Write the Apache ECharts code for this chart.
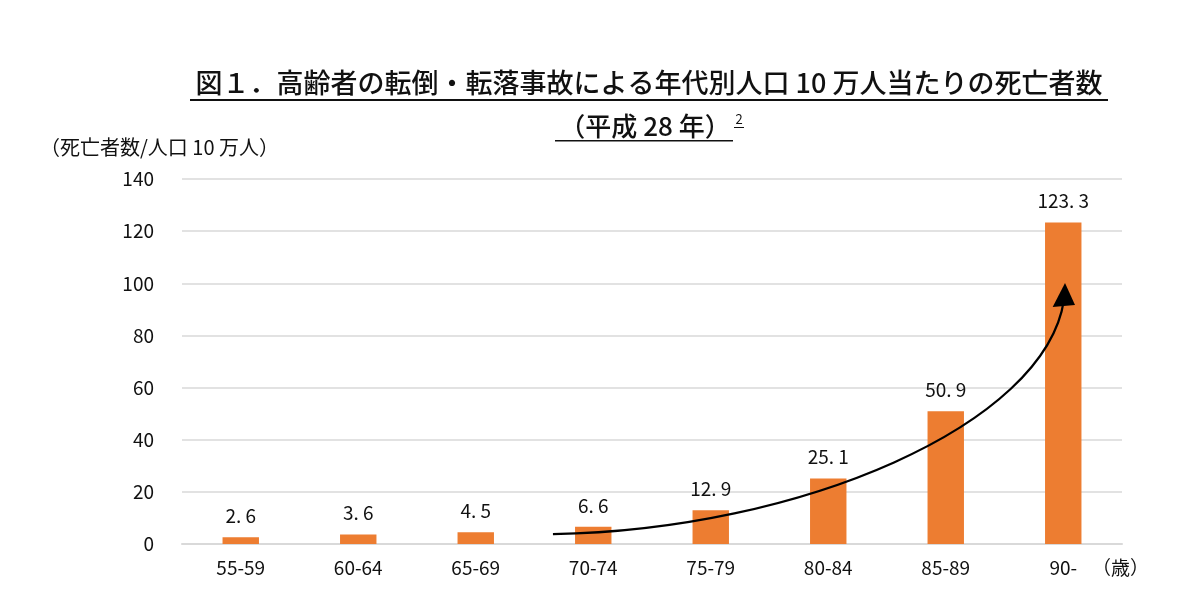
<!DOCTYPE html>
<html>
<head>
<meta charset="utf-8">
<script src="https://cdn.jsdelivr.net/npm/echarts@6/dist/echarts.min.js"></script>
<style>
html,body{margin:0;padding:0;background:#fff;}
#c{width:1200px;height:610px;}
</style>
</head>
<body>
<div id="c"></div>
<script>
// ---- data ----
const categories = ['55-59', '60-64', '65-69', '70-74', '75-79', '80-84', '85-89', '90-'];
const values = [2.6, 3.6, 4.5, 6.6, 12.9, 25.1, 50.9, 123.3];
const yMin = 0, yMax = 140, yInterval = 20;
// arrow annotation (cubic bezier) in data units: [category position, value]
const arrowCurve = [[2.657, 3.8], [4.76, 5.4], [6.845, 45.6], [7.006, 93.6]];
const arrowHead = [[7.015, 100.1], [6.91, 90.9], [7.1, 91.7]];
const titleText = '図１．高齢者の転倒・転落事故による年代別人口 10 万人当たりの死亡者数';
const subTitleText = '（平成 28 年）';
const yAxisName = '（死亡者数/人口 10 万人）';
const xUnit = '（歳）';

const FONT = "'Noto Sans CJK JP', 'Noto Sans', sans-serif";

const chart = echarts.init(document.getElementById('c'), null, {renderer: 'canvas'});
chart.setOption({
  animation: false,
  backgroundColor: '#ffffff',
  grid: {left: 182, right: 78, top: 179, bottom: 66, containLabel: false},
  xAxis: [{
    type: 'category',
    data: categories,
    axisLine: {show: true, lineStyle: {color: '#d9d9d9', width: 2}},
    axisTick: {show: false},
    axisLabel: {color: '#111', fontSize: 19, fontFamily: FONT, margin: 14}
  }, {
    type: 'value', min: -0.5, max: 7.5, show: false
  }],
  yAxis: {
    type: 'value', min: yMin, max: yMax, interval: yInterval,
    axisLine: {show: false}, axisTick: {show: false},
    axisLabel: {color: '#111', fontSize: 19, fontFamily: FONT, margin: 28},
    splitLine: {lineStyle: {color: '#d9d9d9', width: 1.5}}
  },
  series: [{
    type: 'bar',
    data: values,
    barWidth: '31%',
    itemStyle: {color: '#ED7D31'},
    label: {
      show: true, position: 'top', distance: 12,
      color: '#111', fontSize: 19, fontFamily: FONT,
      formatter: p => p.value.toFixed(1).replace('.', '. ')
    }
  }, {
    type: 'custom',
    xAxisIndex: 1,
    data: [0],
    silent: true,
    z: 5,
    renderItem: function (params, api) {
      const c = arrowCurve.map(p => api.coord(p));
      const h = arrowHead.map(p => api.coord(p));
      return {
        type: 'group',
        children: [{
          type: 'bezierCurve',
          shape: {x1: c[0][0], y1: c[0][1], cpx1: c[1][0], cpy1: c[1][1], cpx2: c[2][0], cpy2: c[2][1], x2: c[3][0], y2: c[3][1]},
          style: {stroke: '#000', lineWidth: 2.2, fill: null}
        }, {
          type: 'polygon',
          shape: {points: h},
          style: {fill: '#000'}
        }]
      };
    }
  }],
  graphic: [
    {type: 'text', x: 649, y: 83, style: {text: titleText, font: '500 27px ' + FONT, fill: '#111', align: 'center', verticalAlign: 'middle'}},
    {type: 'rect', shape: {x: 190, y: 99, width: 918, height: 2}, style: {fill: '#111'}},
    {type: 'text', x: 645, y: 126, style: {text: subTitleText, font: '500 26px ' + FONT, fill: '#111', align: 'center', verticalAlign: 'middle'}},
    {type: 'rect', shape: {x: 555, y: 140, width: 178, height: 1.5}, style: {fill: '#111'}},
    {type: 'text', x: 739, y: 119, style: {text: '2', font: '13px ' + FONT, fill: '#111', align: 'center', verticalAlign: 'middle'}},
    {type: 'rect', shape: {x: 734, y: 127, width: 10, height: 1}, style: {fill: '#111'}},
    {type: 'text', x: 40, y: 147, style: {text: yAxisName, font: '20px ' + FONT, fill: '#111', verticalAlign: 'middle'}},
    {type: 'text', x: 1092, y: 568, style: {text: xUnit, font: '19px ' + FONT, fill: '#111', verticalAlign: 'middle'}}
  ]
});
</script>
</body>
</html>
